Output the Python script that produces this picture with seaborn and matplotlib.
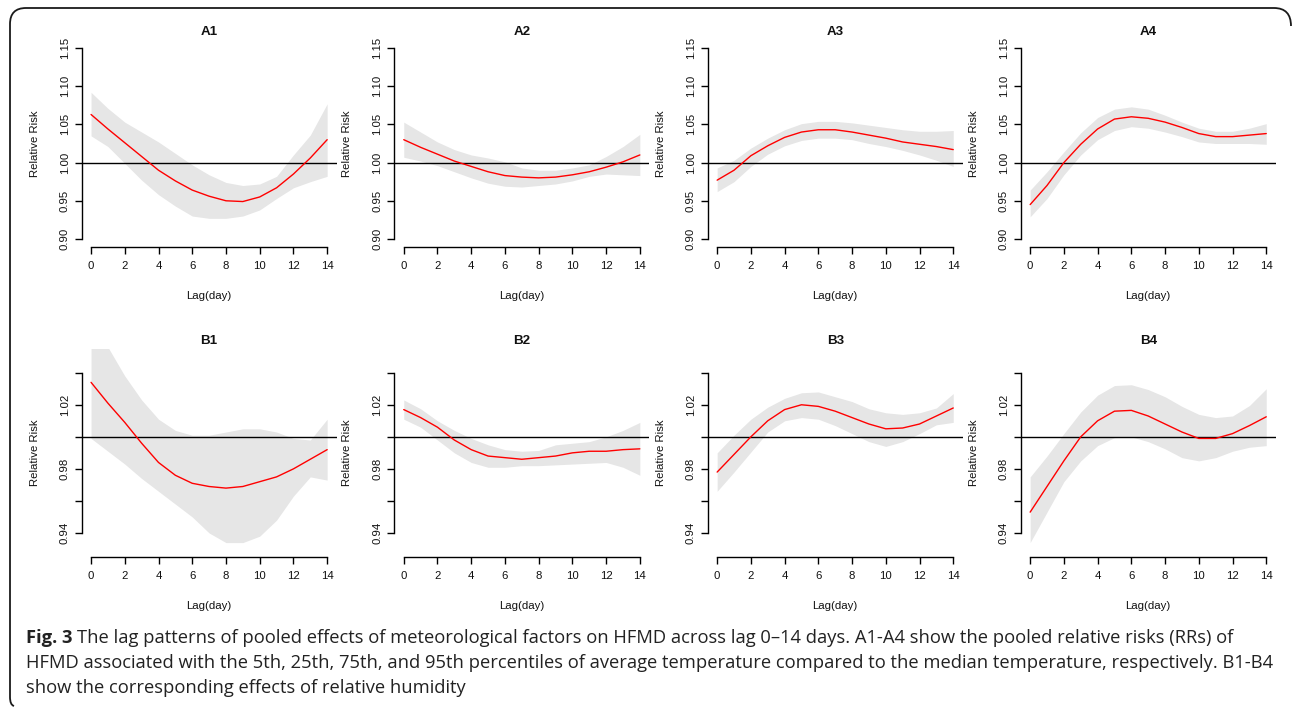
import numpy as np
import pandas as pd
import matplotlib
matplotlib.use("Agg")
import matplotlib.pyplot as plt
import seaborn as sns
from matplotlib.path import Path
from matplotlib.patches import PathPatch

# ---------------- data ----------------
lag = list(range(15))

A1_rr = [1.063, 1.044, 1.026, 1.008, 0.990, 0.976, 0.964, 0.956, 0.950, 0.949, 0.955, 0.967, 0.985, 1.006, 1.030]
A1_hi = [1.092, 1.071, 1.053, 1.040, 1.027, 1.012, 0.997, 0.984, 0.974, 0.970, 0.972, 0.982, 1.010, 1.036, 1.077]
A1_lo = [1.035, 1.021, 0.999, 0.977, 0.958, 0.943, 0.930, 0.927, 0.927, 0.930, 0.938, 0.953, 0.967, 0.975, 0.982]

A2_rr = [1.030, 1.020, 1.011, 1.002, 0.995, 0.988, 0.983, 0.981, 0.980, 0.981, 0.984, 0.988, 0.994, 1.001, 1.010]
A2_hi = [1.053, 1.040, 1.027, 1.017, 1.010, 1.006, 1.001, 0.993, 0.990, 0.990, 0.993, 0.997, 1.008, 1.021, 1.037]
A2_lo = [1.007, 1.002, 0.996, 0.988, 0.980, 0.973, 0.969, 0.968, 0.970, 0.972, 0.976, 0.982, 0.985, 0.984, 0.983]

A3_rr = [0.977, 0.990, 1.009, 1.022, 1.033, 1.040, 1.043, 1.043, 1.040, 1.036, 1.032, 1.027, 1.024, 1.021, 1.017]
A3_hi = [0.993, 1.003, 1.019, 1.032, 1.043, 1.051, 1.054, 1.054, 1.052, 1.049, 1.046, 1.043, 1.041, 1.041, 1.042]
A3_lo = [0.962, 0.975, 0.995, 1.011, 1.022, 1.029, 1.032, 1.032, 1.030, 1.025, 1.021, 1.016, 1.010, 1.003, 0.995]

A4_rr = [0.945, 0.970, 1.000, 1.024, 1.044, 1.057, 1.060, 1.058, 1.053, 1.046, 1.038, 1.034, 1.034, 1.036, 1.038]
A4_hi = [0.964, 0.988, 1.014, 1.039, 1.059, 1.070, 1.073, 1.070, 1.062, 1.053, 1.045, 1.041, 1.041, 1.045, 1.051]
A4_lo = [0.929, 0.953, 0.984, 1.010, 1.030, 1.042, 1.047, 1.045, 1.040, 1.034, 1.027, 1.025, 1.025, 1.025, 1.024]

B1_rr = [1.034, 1.021, 1.009, 0.996, 0.984, 0.976, 0.971, 0.969, 0.968, 0.969, 0.972, 0.975, 0.980, 0.986, 0.992]
B1_hi = [1.065, 1.056, 1.038, 1.023, 1.011, 1.004, 1.001, 1.001, 1.003, 1.005, 1.005, 1.003, 0.999, 0.998, 1.011]
B1_lo = [0.999, 0.991, 0.983, 0.974, 0.966, 0.958, 0.950, 0.940, 0.934, 0.934, 0.938, 0.948, 0.963, 0.975, 0.973]

B2_rr = [1.017, 1.012, 1.006, 0.998, 0.992, 0.988, 0.987, 0.986, 0.987, 0.988, 0.990, 0.991, 0.991, 0.992, 0.9925]
B2_hi = [1.023, 1.0175, 1.010, 1.004, 0.999, 0.995, 0.992, 0.991, 0.9915, 0.995, 0.996, 0.997, 1.000, 1.004, 1.009]
B2_lo = [1.011, 1.006, 0.998, 0.990, 0.984, 0.981, 0.981, 0.982, 0.982, 0.9825, 0.983, 0.9835, 0.984, 0.981, 0.976]

B3_rr = [0.978, 0.989, 1.000, 1.010, 1.017, 1.020, 1.019, 1.016, 1.012, 1.008, 1.005, 1.0055, 1.008, 1.013, 1.018]
B3_hi = [0.990, 1.001, 1.011, 1.0185, 1.024, 1.0275, 1.028, 1.025, 1.022, 1.0175, 1.015, 1.014, 1.015, 1.018, 1.027]
B3_lo = [0.966, 0.978, 0.9905, 1.003, 1.010, 1.012, 1.011, 1.007, 1.002, 0.997, 0.994, 0.997, 1.002, 1.0075, 1.009]

B4_rr = [0.953, 0.969, 0.985, 1.000, 1.010, 1.016, 1.0165, 1.013, 1.008, 1.003, 0.999, 0.999, 1.002, 1.007, 1.0125]
B4_hi = [0.975, 0.988, 1.002, 1.0155, 1.026, 1.032, 1.0325, 1.0295, 1.025, 1.019, 1.014, 1.012, 1.013, 1.0195, 1.030]
B4_lo = [0.934, 0.953, 0.972, 0.985, 0.9945, 0.9995, 1.000, 0.997, 0.9925, 0.987, 0.985, 0.987, 0.991, 0.9935, 0.9945]

titles = ["A1", "A2", "A3", "A4", "B1", "B2", "B3", "B4"]
series = [(A1_rr, A1_lo, A1_hi), (A2_rr, A2_lo, A2_hi), (A3_rr, A3_lo, A3_hi), (A4_rr, A4_lo, A4_hi),
          (B1_rr, B1_lo, B1_hi), (B2_rr, B2_lo, B2_hi), (B3_rr, B3_lo, B3_hi), (B4_rr, B4_lo, B4_hi)]

xticks = [0, 2, 4, 6, 8, 10, 12, 14]
A_yticks = [0.90, 0.95, 1.00, 1.05, 1.10, 1.15]
A_ylabels = ["0.90", "0.95", "1.00", "1.05", "1.10", "1.15"]
B_yticks = [0.94, 0.96, 0.98, 1.00, 1.02, 1.04]
B_ylabels = ["0.94", "", "0.98", "", "1.02", ""]

caption_bold = "Fig. 3"
caption_lines = [
    "The lag patterns of pooled effects of meteorological factors on HFMD across lag 0\u201314 days. A1-A4 show the pooled relative risks (RRs) of",
    "HFMD associated with the 5th, 25th, 75th, and 95th percentiles of average temperature compared to the median temperature, respectively. B1-B4",
    "show the corresponding effects of relative humidity",
]

# ---------------- style ----------------
sns.set_style("ticks")
plt.rcParams["font.family"] = ["Liberation Sans", "DejaVu Sans"]

W, H = 1292, 708
fig = plt.figure(figsize=(W / 100, H / 100), dpi=100)

def fx(x):
    return x / W

def fy(y):
    return 1 - y / H

lefts = [81.6, 394.3, 707.7, 1020.7]
row_top = [40.4, 349.0]
row_bot = [246.6, 556.7]
ax_w = 255.0

tick_fs = 8.2
band_col = "#e6e6e6"

for i, (title, (rr, lo, hi)) in enumerate(zip(titles, series)):
    r, c = divmod(i, 4)
    top, bot = row_top[r], row_bot[r]
    ax = fig.add_axes([fx(lefts[c]), fy(bot), fx(ax_w), (bot - top) / H])
    ax.set_facecolor("white")
    ax.fill_between(lag, lo, hi, color=band_col, lw=0, zorder=1)
    ax.axhline(1.0, color="black", lw=1.0, zorder=2)
    df = pd.DataFrame({"lag": lag, "rr": rr})
    sns.lineplot(data=df, x="lag", y="rr", ax=ax, color="red", lw=1.0, zorder=3)

    ax.set_xlim(-0.56, 14.56)
    if r == 0:
        ax.set_ylim(0.89, 1.16)
        yt, yl = A_yticks, A_ylabels
    else:
        ax.set_ylim(0.9252, 1.0548)
        yt, yl = B_yticks, B_ylabels
    ax.set_yticks(yt)
    ax.set_yticklabels(yl)
    ax.set_xticks(xticks)
    ax.set_xticklabels([str(t) for t in xticks])

    for s in ["top", "right"]:
        ax.spines[s].set_visible(False)
    ax.spines["left"].set_bounds(yt[0], yt[-1])
    ax.spines["bottom"].set_bounds(0, 14)
    for s in ["left", "bottom"]:
        ax.spines[s].set_linewidth(1.0)
        ax.spines[s].set_color("black")

    ax.tick_params(axis="both", direction="out", length=5, width=1.0, color="black",
                   labelsize=tick_fs, labelcolor="#111111")
    ax.tick_params(axis="x", pad=5.5)
    ax.tick_params(axis="y", pad=3.5, labelrotation=90)
    for lab in ax.get_yticklabels():
        lab.set_va("center")

    ax.set_xlabel("Lag(day)", fontsize=tick_fs, color="#111111")
    ax.set_ylabel("Relative Risk", fontsize=tick_fs, color="#111111")
    h = bot - top
    ax.xaxis.set_label_coords(0.5, -(299.5 - bot + (0 if r == 0 else 309.5)) / h if False else -(52.5 / h))
    ax.xaxis.label.set_va("baseline")
    ax.yaxis.set_label_coords(-(81.6 - 37.5) / ax_w, 0.5)
    ax.yaxis.label.set_va("baseline")
    ax.yaxis.label.set_rotation_mode("anchor")
    ax.yaxis.label.set_ha("center")
    ax.text(0.5, 1 + 5.4 / h, title, transform=ax.transAxes, ha="center", va="baseline",
            fontsize=9.6, fontweight="bold", color="#111111")

# ---------------- border ----------------
verts = [
    (fx(1291), fy(26)), (fx(1291), fy(8)), (fx(1274), fy(8)),
    (fx(26), fy(8)),
    (fx(10), fy(8)), (fx(10), fy(24)),
    (fx(10), fy(697)),
    (fx(10), fy(705)), (fx(14), fy(706)),
]
codes = [Path.MOVETO, Path.CURVE3, Path.CURVE3, Path.LINETO, Path.CURVE3, Path.CURVE3,
         Path.LINETO, Path.CURVE3, Path.CURVE3]
fig.add_artist(PathPatch(Path(verts, codes), transform=fig.transFigure, fill=False,
                         lw=1.3, edgecolor="#1a1a1a"))

# ---------------- caption ----------------
cap_font = ["Open Sans", "DejaVu Sans"]
cap_fs = 11.0
x0 = 26
baselines = [643, 668, 693]
fig.canvas.draw()
renderer = fig.canvas.get_renderer()
# fit line 2 width to the reference (26 -> 1276 px)
probe = fig.text(0, 0, caption_lines[1], fontsize=cap_fs, family=cap_font)
w2 = probe.get_window_extent(renderer).width
probe.remove()
cap_fs = cap_fs * (1250 / w2)

tb = fig.text(fx(x0), fy(baselines[0]), caption_bold, fontsize=cap_fs, family=cap_font,
              fontweight="bold", va="baseline", ha="left", color="#222222")
bw = tb.get_window_extent(renderer).width
sp = cap_fs * 0.26 * 100 / 72
fig.text(fx(x0 + bw + sp), fy(baselines[0]), caption_lines[0], fontsize=cap_fs, family=cap_font,
         va="baseline", ha="left", color="#222222")
for line, b in zip(caption_lines[1:], baselines[1:]):
    fig.text(fx(x0), fy(b), line, fontsize=cap_fs, family=cap_font, va="baseline", ha="left",
             color="#222222")

fig.savefig("out.png", dpi=100, facecolor="white")
